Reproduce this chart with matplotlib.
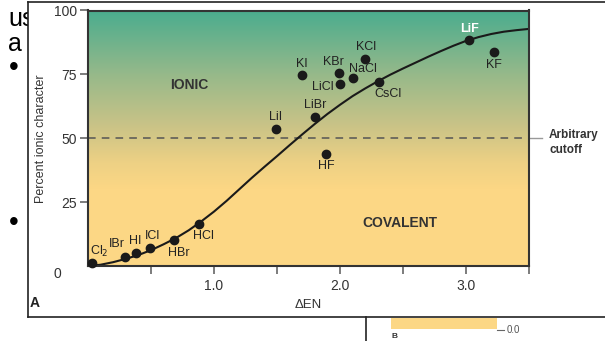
import numpy as np
import matplotlib.pyplot as plt
from matplotlib.colors import LinearSegmentedColormap
from matplotlib.patches import Rectangle
from matplotlib.lines import Line2D

plt.rcParams['font.family'] = ['Liberation Sans', 'DejaVu Sans']

# compounds: electronegativity difference vs percent ionic character
names = ['Cl$_2$', 'IBr', 'HI', 'ICl', 'HBr', 'HCl', 'LiI', 'LiBr', 'KI', 'KBr',
         'LiCl', 'NaCl', 'KCl', 'CsCl', 'HF', 'LiF', 'KF']
d_en = [0.03, 0.29, 0.38, 0.49, 0.68, 0.88, 1.49, 1.80, 1.70, 1.99,
        2.00, 2.10, 2.20, 2.31, 1.89, 3.02, 3.22]
ionic = [1.0, 3.4, 5.2, 6.9, 10.3, 16.5, 53.5, 58.3, 74.9, 75.4,
         71.2, 73.7, 81.1, 72.0, 44.0, 88.6, 83.7]
# label offsets in pixels (dx, dy up)
offsets = [(7, 12), (-8, 13), (-1, 12), (3, 12), (5, -13), (5, -12), (0, 12), (0, 12),
           (0, 11), (-5, 11), (-17, -3), (10, 9), (1, 12), (9, -12), (0, -12), (1, 11), (0, -13)]

# smooth curve
curve_x = [0.0, 0.1, 0.2, 0.3, 0.4, 0.5, 0.6, 0.7, 0.8, 0.9, 1.0, 1.1, 1.2, 1.3, 1.4, 1.5, 1.6,
           1.7, 1.8, 1.9, 2.0, 2.1, 2.2, 2.3, 2.4, 2.5, 2.6, 2.7, 2.8, 2.9, 3.0, 3.1, 3.2, 3.3,
           3.4, 3.5]
curve_y = [0.0, 0.5, 1.5, 2.8, 4.3, 6.2, 8.5, 11.0, 14.0, 17.5, 21.3, 25.5, 30.0, 34.5, 38.8,
           43.0, 47.3, 51.5, 55.6, 59.5, 63.1, 66.5, 69.5, 72.3, 74.9, 77.3, 79.6, 81.9, 84.1,
           86.2, 88.1, 89.6, 90.8, 91.7, 92.3, 92.8]

yticks = [25, 50, 75, 100]
xticks = [0.5, 1.0, 1.5, 2.0, 2.5, 3.0, 3.5]
xticklabels = ['', '1.0', '', '2.0', '', '3.0', '']

W, H = 605, 341
fig = plt.figure(figsize=(W / 100, H / 100), dpi=100)

def fx(px):
    return px / W

def fy(py):
    return 1 - py / H

# slide remnants behind the figure box
fig.text(fx(8), fy(19), 'use', fontsize=18, va='center', ha='left', zorder=1)
fig.text(fx(8), fy(44), 'a', fontsize=18, va='center', ha='left', zorder=1)
fig.text(fx(9), fy(68), '\u2022', fontsize=20, va='center', ha='left', zorder=1)
fig.text(fx(9), fy(223), '\u2022', fontsize=20, va='center', ha='left', zorder=1)
fig.add_artist(Rectangle((fx(28), fy(317)), 1, fy(2) - fy(317), transform=fig.transFigure,
                         facecolor='white', edgecolor='none', zorder=2))
box_kw = dict(transform=fig.transFigure, color='#222222', lw=1.2, zorder=3)
fig.add_artist(Line2D([fx(28), fx(28)], [fy(2), fy(317)], **box_kw))
fig.add_artist(Line2D([fx(28), 1], [fy(2), fy(2)], **box_kw))
fig.add_artist(Line2D([fx(28), 1], [fy(317), fy(317)], **box_kw))
fig.add_artist(Line2D([fx(366), fx(366)], [fy(317), 0], **box_kw))
fig.add_artist(Rectangle((fx(391), fy(329)), fx(106), fy(318) - fy(329), transform=fig.transFigure,
                         facecolor='#fcd785', edgecolor='none', zorder=3))
fig.add_artist(Line2D([fx(497), fx(504)], [fy(330), fy(330)], transform=fig.transFigure,
                      color='#666666', lw=0.8, zorder=3))
fig.text(fx(507), fy(330), '0.0', fontsize=7, color='#555555', va='center', ha='left', zorder=3)
fig.text(fx(392), fy(336), 'B', fontsize=6, fontweight='bold', color='#333333', va='center', zorder=3)

ax = fig.add_axes([fx(88), fy(266), fx(441), fy(10.5) - fy(266)])
ax.set_zorder(4)
ax.patch.set_alpha(0)

cmap = LinearSegmentedColormap.from_list('ionic', [
    (0.0, '#fcd785'), (0.30, '#fcd785'), (0.40, '#eed184'), (0.55, '#c9c387'),
    (0.75, '#96b98a'), (1.0, '#4aac8e')])
grad = np.linspace(0, 1, 256).reshape(-1, 1)
ax.imshow(grad, extent=[0, 3.5, 0, 100], aspect='auto', origin='lower', cmap=cmap, zorder=0)

ax.axhline(50, color='#555555', lw=1.1, dashes=(5, 4), zorder=1)
ax.plot([3.5, 3.6], [50, 50], color='#999999', lw=1.0, clip_on=False)
ax.text(3.66, 53.5, 'Arbitrary\ncutoff', fontsize=8.5, fontweight='bold', color='#333333',
        va='top', ha='left', linespacing=1.3)

ax.plot(curve_x, curve_y, color='#1a1a1a', lw=1.5, zorder=2)
ax.plot(d_en, ionic, 'o', color='#1a1a1a', ms=6, zorder=3, clip_on=False)

for name, x, y, (dx, dy) in zip(names, d_en, ionic, offsets):
    white = name == 'LiF'
    ax.annotate(name, (x, y), xytext=(dx * 0.72, dy * 0.72), textcoords='offset points',
                ha='center', va='center', fontsize=9,
                color='white' if white else '#222222',
                fontweight='bold' if white else 'normal', zorder=4)

ax.text(0.23, 0.71, 'IONIC', transform=ax.transAxes, fontsize=10, fontweight='bold',
        color='#333333', ha='center', va='center')
ax.text(0.707, 0.17, 'COVALENT', transform=ax.transAxes, fontsize=10, fontweight='bold',
        color='#333333', ha='center', va='center')

ax.set_xlim(0, 3.5)
ax.set_ylim(0, 100)
ax.set_yticks(yticks)
ax.set_xticks(xticks)
ax.set_xticklabels(xticklabels)
ax.tick_params(direction='out', length=6, width=1.2, color='#666666', labelsize=10,
               labelcolor='#333333', pad=2)
ax.tick_params(axis='x', pad=3)
for s in ax.spines.values():
    s.set_color('#333333')
    s.set_linewidth(1.5)
ax.text(-0.07, -0.03, '0', transform=ax.transAxes, fontsize=10, color='#333333',
        ha='center', va='center')

ax.set_xlabel('\u0394EN', fontsize=9.5, color='#333333', labelpad=5)
ax.set_ylabel('Percent ionic character', fontsize=9, color='#333333', labelpad=5)
fig.text(fx(30), fy(303), 'A', fontsize=10, fontweight='bold', color='#222222',
         ha='left', va='center', zorder=5)

fig.savefig('out.png', dpi=100)
